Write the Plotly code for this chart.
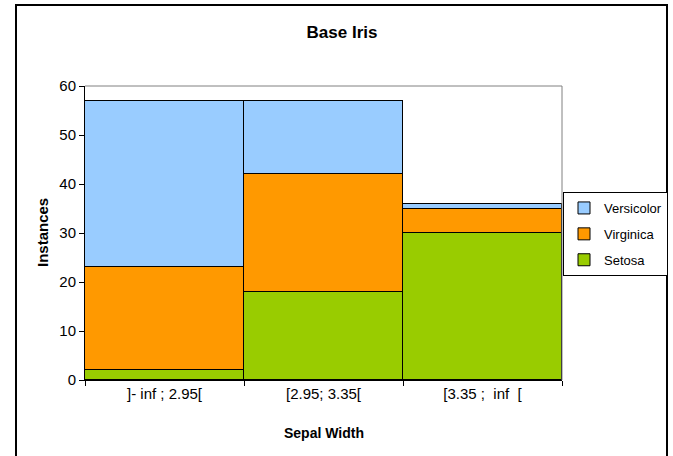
import plotly.graph_objects as go

categories = ["]- inf ; 2.95[", "[2.95; 3.35[", "[3.35 ;  inf  ["]
setosa = [2, 18, 30]
virginica = [21, 24, 5]
versicolor = [34, 15, 1]
y_ticks = [0, 10, 20, 30, 40, 50, 60]

FONT = "Liberation Sans, Arial, sans-serif"

fig = go.Figure()
series = [("Setosa", setosa, "#99CC00", 3), ("Virginica", virginica, "#FF9900", 2),
          ("Versicolor", versicolor, "#99CCFF", 1)]
for name, vals, col, rank in series:
    fig.add_trace(go.Bar(x=categories, y=vals, name=name, legendgroup=name, legendrank=rank,
                         marker=dict(color=col, line=dict(color="black", width=1))))

L, R, T, B = 85, 111, 86, 76
W, H = 673, 456
pw, ph = W - L - R, H - T - B

def px(x):
    return (x - L) / pw

def py(y):
    return (H - B - y) / ph

fig.update_layout(
    width=W, height=H,
    margin=dict(l=L, r=R, t=T, b=B, autoexpand=False),
    paper_bgcolor="white", plot_bgcolor="white",
    barmode="stack", bargap=0,
    font=dict(family=FONT, size=15, color="black"),
    title=dict(text="<b>Base Iris</b>", x=342 / W, xref="container", xanchor="center",
               y=1 - 32 / H, yref="container", yanchor="middle",
               font=dict(family=FONT, size=17, color="black")),
    xaxis=dict(type="category", tickson="boundaries", ticks="outside", ticklen=5,
               tickcolor="black", showline=True, linecolor="black", linewidth=1,
               showgrid=False, tickfont=dict(size=15)),
    yaxis=dict(range=[0, 60], tickvals=y_ticks, ticks="outside", ticklen=5,
               tickcolor="black", showline=True, linecolor="black", linewidth=1,
               showgrid=False, zeroline=False, tickfont=dict(size=15)),
    legend=dict(x=px(563), y=py(192), xanchor="left", yanchor="top",
                bordercolor="black", borderwidth=1, bgcolor="white",
                traceorder="grouped", tracegroupgap=6,
                font=dict(family=FONT, size=13)),
    showlegend=True,
)

fig.add_annotation(text="<b>Instances</b>", x=px(42), y=0.5, xref="paper", yref="paper",
                   xanchor="center", yanchor="middle",
                   textangle=-90, showarrow=False, font=dict(family=FONT, size=15))
fig.add_annotation(text="<b>Sepal Width</b>", x=0.5, y=py(433), xref="paper", yref="paper",
                   showarrow=False, yanchor="middle", font=dict(family=FONT, size=14))

# plot-area frame (gray top/right)
fig.add_shape(type="line", xref="paper", yref="paper", x0=0, x1=1, y0=1, y1=1,
              line=dict(color="#808080", width=1))
fig.add_shape(type="line", xref="paper", yref="paper", x0=1, x1=1, y0=0, y1=1,
              line=dict(color="#808080", width=1))
# outer chart border
fig.add_shape(type="rect", xref="paper", yref="paper", x0=px(16), x1=px(667),
              y0=py(470), y1=py(5), line=dict(color="black", width=2), layer="below")

fig.write_html("out.html")
